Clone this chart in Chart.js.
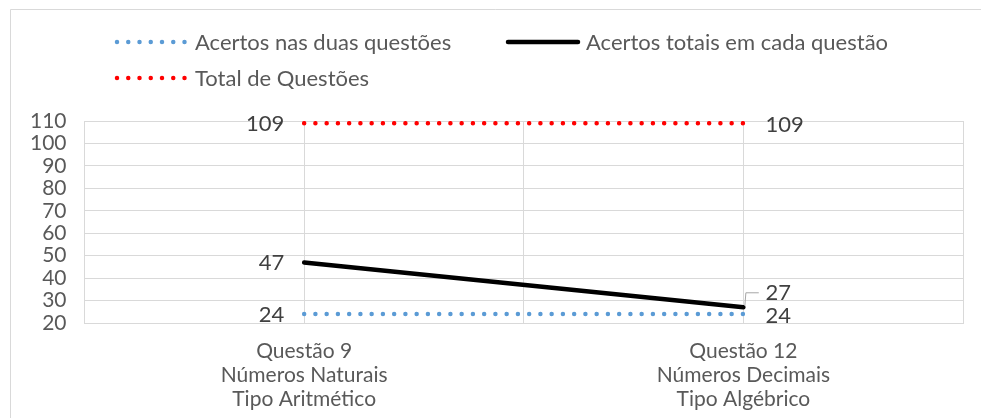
<!DOCTYPE html>
<html>
<head>
<meta charset="utf-8">
<script src="https://cdn.jsdelivr.net/npm/chart.js@4.4.1/dist/chart.umd.min.js"></script>
<style>
 html, body { margin: 0; padding: 0; background: #fff; }
 #wrap { width: 981px; height: 418px; position: relative; }
</style>
</head>
<body>
<div id="wrap"><canvas id="chart" width="981" height="418"></canvas></div>
<script>
const categories = [
 ['Questão 9', 'Números Naturais', 'Tipo Aritmético'],
 ['Questão 12', 'Números Decimais', 'Tipo Algébrico']
];
const acertosDuas = [24, 24];
const acertosTotais = [47, 27];
const totalQuestoes = [109, 109];
const yTicks = { min: 20, max: 110, step: 10 };

const FONT = 'Lato, "Open Sans", sans-serif';
const TEXT = '#595959';
const LABEL = '#404040';
const GRID = '#d9d9d9';

// moldura, legenda e rótulos de dados
const decorPlugin = {
 id: 'decor',
 beforeDraw(chart) {
  const c = chart.ctx;
  c.save();
  c.fillStyle = '#fff';
  c.fillRect(0, 0, chart.width, chart.height);
  c.strokeStyle = '#d9d9d9';
  c.lineWidth = 1;
  c.beginPath();
  c.moveTo(10.5, chart.height);
  c.lineTo(10.5, 9.5);
  c.lineTo(chart.width, 9.5);
  c.stroke();
  c.restore();
 },
 afterDraw(chart) {
  const c = chart.ctx;
  c.save();
  // legenda
  const items = [
   { ds: 0, x: 117, y: 42 },
   { ds: 1, x: 508, y: 42 },
   { ds: 2, x: 117, y: 78 }
  ];
  c.font = '22px ' + FONT;
  c.textBaseline = 'middle';
  items.forEach(it => {
   const ds = chart.data.datasets[it.ds];
   c.strokeStyle = ds.borderColor;
   c.lineWidth = ds.borderWidth;
   c.lineCap = 'round';
   c.setLineDash(ds.borderDash || []);
   c.beginPath();
   c.moveTo(it.x, it.y);
   c.lineTo(it.x + 70, it.y);
   c.stroke();
   c.setLineDash([]);
   c.fillStyle = TEXT;
   c.textAlign = 'left';
   c.fillText(ds.label, it.x + 78, it.y + 1);
  });

  // rótulos de dados
  c.font = '22px ' + FONT;
  c.fillStyle = LABEL;
  chart.data.datasets.forEach((ds, i) => {
   const pts = chart.getDatasetMeta(i).data;
   pts.forEach((p, j) => {
    const v = ds.data[j];
    if (j === 0) {
     c.textAlign = 'right';
     c.fillText(String(v), p.x - 20, p.y + 1);
    } else if (i === 1) {
     // linha de chamada
     c.strokeStyle = '#a6a6a6';
     c.lineWidth = 1;
     c.beginPath();
     c.moveTo(p.x + 1.5, p.y - 2);
     c.lineTo(p.x + 2.5, p.y - 14.5);
     c.lineTo(p.x + 15, p.y - 14.5);
     c.stroke();
     c.textAlign = 'left';
     c.fillText(String(v), p.x + 22, p.y - 14);
    } else {
     c.textAlign = 'left';
     c.fillText(String(v), p.x + 22, p.y + 2);
    }
   });
  });
  c.restore();
 }
};

new Chart(document.getElementById('chart'), {
 type: 'line',
 data: {
  labels: categories,
  datasets: [
   {
    label: 'Acertos nas duas questões',
    data: acertosDuas,
    borderColor: '#5B9BD5',
    borderWidth: 4.5,
    borderDash: [0, 11.25],
    borderCapStyle: 'round',
    pointRadius: 0,
    tension: 0
   },
   {
    label: 'Acertos totais em cada questão',
    data: acertosTotais,
    borderColor: '#000000',
    borderWidth: 4.5,
    borderCapStyle: 'round',
    pointRadius: 0,
    tension: 0
   },
   {
    label: 'Total de Questões',
    data: totalQuestoes,
    borderColor: '#FF0000',
    borderWidth: 4.5,
    borderDash: [0, 11.25],
    borderCapStyle: 'round',
    pointRadius: 0,
    tension: 0
   }
  ]
 },
 options: {
  responsive: false,
  animation: false,
  devicePixelRatio: 1,
  layout: { padding: { top: 121, right: 18, left: 12, bottom: -9 } },
  plugins: { legend: { display: false }, tooltip: { enabled: false } },
  scales: {
   x: {
    offset: true,
    grid: { color: GRID, offset: false, drawTicks: false },
    border: { color: GRID },
    ticks: { color: TEXT, font: { family: FONT, size: 21, lineHeight: '24px' }, padding: 16, maxRotation: 0 }
   },
   x2: {
    type: 'category',
    labels: categories,
    offset: true,
    position: 'bottom',
    grid: { color: GRID, offset: true, drawTicks: false },
    border: { display: false },
    ticks: { display: false },
    afterFit(axis) { axis.height = 0; }
   },
   y: {
    min: yTicks.min,
    max: yTicks.max,
    grid: { color: GRID, drawTicks: false },
    border: { display: false },
    ticks: { stepSize: yTicks.step, autoSkip: false, color: TEXT, font: { family: FONT, size: 21 }, padding: 18 }
   }
  }
 },
 plugins: [decorPlugin]
});
</script>
</body>
</html>
